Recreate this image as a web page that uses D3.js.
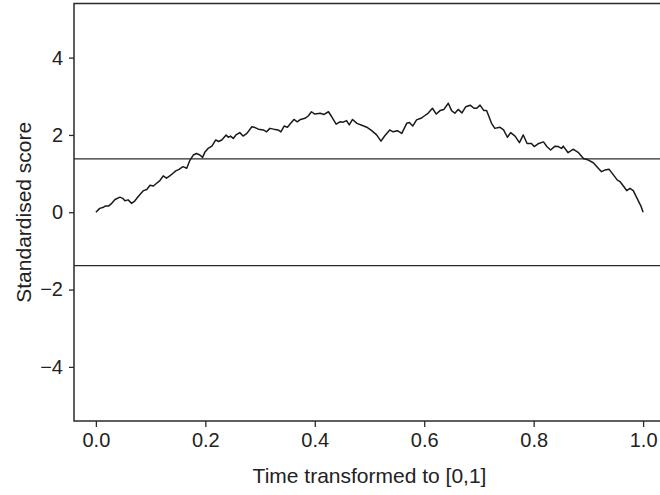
<!DOCTYPE html>
<html><head><meta charset="utf-8">
<script src="https://cdn.jsdelivr.net/npm/d3@7"></script>
<style>body{margin:0;background:#fff}svg{display:block}text{font-family:"Liberation Sans",Arial,Helvetica,sans-serif;fill:#222}</style>
</head><body>
<script>
const xTicks = [0.0, 0.2, 0.4, 0.6, 0.8, 1.0];
const yTicks = [-4, -2, 0, 2, 4];
const bound = 1.38;
const time = [
  0.000,0.007,0.014,0.017,0.023,0.029,0.035,0.044,0.049,0.053,
  0.059,0.065,0.071,0.077,0.087,0.093,0.099,0.105,0.111,0.117,
  0.123,0.129,0.135,0.141,0.146,0.152,0.159,0.166,0.172,0.178,
  0.184,0.190,0.195,0.199,0.205,0.212,0.219,0.224,0.230,0.238,
  0.242,0.246,0.251,0.256,0.263,0.269,0.276,0.285,0.291,0.297,
  0.306,0.312,0.318,0.325,0.333,0.338,0.344,0.350,0.356,0.362,
  0.368,0.374,0.382,0.388,0.394,0.400,0.410,0.417,0.425,0.431,
  0.439,0.446,0.452,0.458,0.463,0.469,0.477,0.486,0.495,0.504,
  0.513,0.521,0.528,0.537,0.543,0.551,0.559,0.568,0.573,0.579,
  0.586,0.594,0.600,0.607,0.615,0.622,0.629,0.636,0.644,0.650,
  0.656,0.662,0.669,0.676,0.684,0.691,0.696,0.702,0.709,0.714,
  0.723,0.729,0.738,0.745,0.752,0.758,0.766,0.774,0.781,0.788,
  0.796,0.801,0.808,0.818,0.824,0.831,0.839,0.845,0.851,0.854,
  0.863,0.872,0.882,0.891,0.900,0.909,0.918,0.924,0.930,0.938,
  0.946,0.953,0.958,0.965,0.970,0.976,0.982,0.989,0.996,1.000];
const score = [
  0.00,0.10,0.13,0.16,0.16,0.23,0.33,0.39,0.36,0.30,
  0.32,0.23,0.29,0.40,0.56,0.59,0.70,0.68,0.75,0.82,
  0.94,0.88,0.94,1.01,1.07,1.11,1.18,1.14,1.35,1.48,
  1.52,1.48,1.42,1.55,1.65,1.71,1.87,1.83,1.87,2.00,
  1.94,1.97,1.91,2.00,2.06,1.97,2.04,2.21,2.19,2.15,
  2.13,2.08,2.17,2.15,2.13,2.08,2.23,2.20,2.30,2.40,
  2.34,2.40,2.43,2.49,2.60,2.54,2.56,2.53,2.60,2.47,
  2.28,2.34,2.33,2.37,2.26,2.40,2.30,2.25,2.20,2.11,
  2.00,1.84,1.98,2.13,2.08,2.11,2.04,2.30,2.32,2.23,
  2.39,2.43,2.49,2.56,2.69,2.54,2.63,2.66,2.82,2.63,
  2.56,2.66,2.57,2.73,2.77,2.69,2.69,2.77,2.63,2.63,
  2.30,2.17,2.20,2.13,1.94,2.06,1.97,1.80,2.00,1.78,
  1.78,1.70,1.77,1.82,1.70,1.61,1.71,1.70,1.65,1.71,
  1.54,1.63,1.54,1.39,1.35,1.28,1.14,1.05,1.09,1.11,
  0.96,0.83,0.79,0.66,0.56,0.62,0.56,0.36,0.16,0.00];

const W = 660, H = 495;
const svg = d3.select("body").append("svg").attr("width", W).attr("height", H);
const x = d3.scaleLinear().domain([-0.04, 1.04]).range([74, 665]);
const y = d3.scaleLinear().domain([-5.4, 5.4]).range([421, 3.5]);

// plot box
svg.append("rect").attr("x", x.range()[0]).attr("y", y.range()[1])
  .attr("width", x.range()[1] - x.range()[0]).attr("height", y.range()[0] - y.range()[1])
  .attr("fill", "none").attr("stroke", "#2a2a2a").attr("stroke-width", 1.5);

// x axis
const xa = svg.append("g").attr("transform", `translate(0,${y.range()[0]})`)
  .call(d3.axisBottom(x).tickValues(xTicks).tickFormat(d3.format(".1f")).tickSize(6).tickPadding(6));
xa.select(".domain").remove();
xa.selectAll("line").attr("stroke", "#2a2a2a").attr("stroke-width", 1.3);
xa.selectAll("text").attr("font-size", 20).attr("fill", "#222").attr("font-family", "Liberation Sans, Arial, sans-serif");

// y axis
const ya = svg.append("g").attr("transform", `translate(${x.range()[0]},0)`)
  .call(d3.axisLeft(y).tickValues(yTicks).tickFormat(d => d < 0 ? "\u2212" + Math.abs(d) : String(d)).tickSize(5).tickPadding(6));
ya.select(".domain").remove();
ya.selectAll("line").attr("stroke", "#2a2a2a").attr("stroke-width", 1.3);
ya.selectAll("text").attr("font-size", 20).attr("fill", "#222").attr("font-family", "Liberation Sans, Arial, sans-serif");

// boundaries
[bound, -bound].forEach(b => {
  svg.append("line").attr("x1", x.range()[0]).attr("x2", x.range()[1])
    .attr("y1", y(b)).attr("y2", y(b)).attr("stroke", "#2a2a2a").attr("stroke-width", 1.3);
});

// path
const data = time.map((t, i) => [t, score[i]]);
svg.append("path").datum(data)
  .attr("d", d3.line().x(d => x(d[0])).y(d => y(d[1])))
  .attr("fill", "none").attr("stroke", "#1a1a1a").attr("stroke-width", 1.5).attr("stroke-linejoin", "round");

// titles
svg.append("text").attr("x", (x(0) + x(1)) / 2).attr("y", 483).attr("text-anchor", "middle")
  .attr("font-size", 21).text("Time transformed to [0,1]");
svg.append("text").attr("transform", `translate(31,${(y.range()[0] + y.range()[1]) / 2}) rotate(-90)`)
  .attr("text-anchor", "middle").attr("font-size", 21).text("Standardised score");
</script>
</body></html>
